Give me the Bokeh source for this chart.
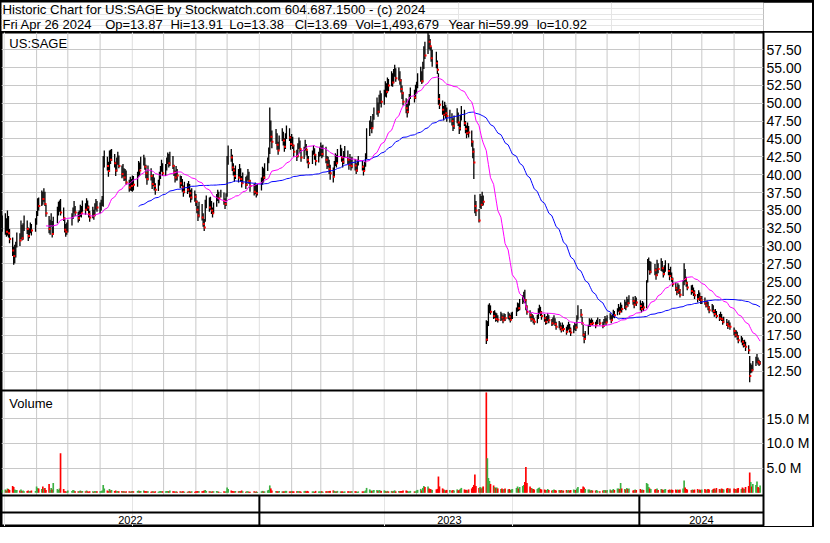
import numpy as np
import pandas as pd
from bokeh.plotting import figure
from bokeh.layouts import column
from bokeh.models import Range1d, FixedTicker, Label, ColumnDataSource
from bokeh.core.properties import value
from bokeh.embed import file_html
from bokeh.resources import INLINE

# ---------------- data ----------------
header_line1 = "Historic Chart for US:SAGE by Stockwatch.com 604.687.1500 - (c) 2024"
header_fields = ["Fri Apr 26 2024", "Op=13.87", "Hi=13.91", "Lo=13.38", "Cl=13.69",
                 "Vol=1,493,679", "Year hi=59.99", "lo=10.92"]
symbol = "US:SAGE"
volume_title = "Volume"
year_labels = ["2022", "2023", "2024"]
price_ticks = [12.5, 15.0, 17.5, 20.0, 22.5, 25.0, 27.5, 30.0, 32.5, 35.0, 37.5, 40.0,
               42.5, 45.0, 47.5, 50.0, 52.5, 55.0, 57.5]
volume_ticks_m = [5, 10, 15]
first_day, last_day = "2022-04-29", "2024-04-26"
market_holidays = ["2022-05-30", "2022-06-20", "2022-07-04", "2022-09-05", "2022-11-24",
                   "2022-12-26", "2023-01-02", "2023-01-16", "2023-02-20", "2023-04-07",
                   "2023-05-29", "2023-06-19", "2023-07-04", "2023-09-04", "2023-11-23",
                   "2023-12-25", "2024-01-01", "2024-01-15", "2024-02-19", "2024-03-29"]

close = [
    33.0,
    33.2, 32.0, 33.6, 31.8, 31.0, 29.4, 28.6, 28.9, 29.7, 31.2, 30.8, 32.9, 31.1, 32.6, 33.4, 32.4, 31.4, 31.9, 32.6, 32.2, 33.3,
    34.4, 36.1, 35.6, 37.1, 36.6, 37.5, 35.9, 34.6, 32.4, 32.9, 33.8, 31.7, 33.5, 34.8, 35.6, 36.1, 34.7, 33.9, 32.3, 32.0, 32.6,
    33.1, 34.0, 34.8, 35.5, 34.7, 33.9, 34.3, 35.2, 34.6, 35.7, 35.1, 36.0, 35.4, 34.5, 34.0, 34.8, 34.3, 35.3, 35.9, 35.4,
    35.4, 35.9, 36.4, 41.6, 42.3, 41.2, 40.5, 42.8, 42.1, 43.0, 41.6, 40.6, 41.9, 42.6, 41.2, 40.1, 40.8, 39.6, 40.3, 38.9, 38.2, 39.0, 38.4,
    39.2, 38.6, 39.9, 41.2, 40.6, 41.8, 42.2, 41.1, 40.2, 39.4, 40.6, 39.8, 38.7, 39.5, 38.4, 37.9, 38.6, 39.7, 40.5, 41.3, 40.2,
    40.9, 41.8, 42.5, 41.6, 42.7, 41.2, 40.3, 39.6, 40.6, 39.9, 38.8, 39.3, 38.2, 37.6, 38.5, 37.9, 38.6, 37.4, 36.8, 37.5, 36.9,
    36.2, 35.1, 34.3, 35.6, 34.0, 33.1, 32.6, 35.8, 36.4, 35.4, 36.1, 35.0, 34.6, 35.5, 36.6, 37.2, 36.7, 37.4, 36.3, 35.9, 36.8,
    41.5, 43.2, 42.4, 41.0, 40.6, 39.8, 40.5, 39.6, 40.7, 39.4, 38.8, 39.7, 38.6, 39.3, 40.2, 39.1, 38.4, 37.6, 38.3, 37.4, 38.1,
    38.9, 40.3, 39.6, 40.8, 41.5, 42.9, 46.8, 45.3, 44.6, 45.5, 44.2, 43.4, 44.9, 45.7, 44.8, 43.9, 45.0, 46.1, 45.2, 44.3,
    45.0, 44.1, 43.2, 42.6, 43.8, 44.5, 43.6, 42.4, 43.3, 44.2, 43.5, 42.1, 41.6, 42.7, 43.6, 42.8, 41.9, 42.6, 43.3,
    43.8, 42.9, 43.6, 42.1, 41.4, 41.9, 40.8, 40.2, 39.7, 41.3, 42.2, 41.6, 42.9, 43.5, 42.4, 41.8, 42.7, 43.3, 42.1, 41.4, 42.3, 41.2, 41.8,
    41.3, 40.6, 41.5, 42.0, 41.1, 40.5, 41.2, 42.4, 45.6, 46.8, 47.4, 46.5, 47.8, 48.6, 49.9, 48.8, 50.3, 51.0, 50.2,
    51.2, 52.4, 51.6, 53.0, 52.5, 53.8, 52.9, 54.0, 54.6, 53.5, 54.3, 53.2, 52.0, 51.4, 50.2, 49.3, 48.8, 49.9, 50.6, 51.5, 50.8, 51.9,
    52.4, 53.6, 54.2, 53.1, 55.0, 57.3, 56.7, 59.1, 58.6, 58.0, 56.3, 56.8, 55.6, 54.7, 50.6, 49.8, 49.1, 48.4, 49.4, 48.6, 48.2,
    48.2, 47.5, 46.8, 47.6, 48.4, 47.3, 46.5, 47.8, 48.9, 47.2, 46.4, 45.8, 46.7, 45.9, 44.6, 43.2, 41.7, 35.6, 35.0, 33.6,
    36.4, 35.8, 36.9, 36.2, 16.9, 18.9, 21.2, 21.4, 20.8, 20.2, 20.6, 19.8, 20.1, 19.7, 20.3, 20.0, 19.6, 20.2, 19.9, 20.4, 20.1, 19.7, 20.2,
    20.4, 21.0, 21.6, 21.3, 22.1, 22.6, 23.2, 22.4, 21.5, 20.8, 20.3, 19.8, 20.1, 19.6, 19.4, 19.9, 20.6, 21.2, 20.7, 20.2,
    19.9, 19.4, 19.7, 20.1, 19.6, 19.2, 19.5, 19.8, 19.1, 18.7, 19.0, 18.6, 18.3, 18.8, 18.4, 18.0, 18.5, 18.9, 18.3, 17.9, 18.4, 18.8,
    18.6, 19.8, 21.0, 20.4, 19.2, 17.6, 17.0, 17.7, 18.7, 19.4, 19.1, 19.5, 19.2, 18.9, 19.3, 19.6, 19.2, 18.8, 19.4, 19.7, 19.3,
    19.8, 20.2, 19.6, 20.1, 20.6, 20.3, 20.9, 21.4, 20.8, 21.6, 21.2, 21.9, 21.5, 22.3, 22.0, 22.6, 22.3, 21.8, 22.5, 22.1,
    21.6, 21.2, 21.8, 21.4, 24.6, 26.8, 27.5, 26.4, 27.2, 26.6, 25.9, 27.4, 26.8, 27.6, 26.9, 26.1, 26.7, 27.3, 26.5, 25.8, 26.4,
    25.4, 24.7, 24.1, 23.6, 24.3, 23.8, 23.2, 24.6, 26.5, 25.4, 24.8, 24.2, 23.7, 24.1, 23.5, 23.1, 22.6, 23.3, 22.8, 22.4,
    22.6, 22.1, 21.7, 22.0, 21.4, 21.0, 21.5, 20.9, 20.5, 20.8, 20.2, 19.9, 20.4, 19.8, 19.4, 19.7, 19.1, 18.8, 19.2, 18.7,
    18.1, 17.6, 17.9, 17.3, 16.8, 17.1, 16.6, 16.2, 16.5, 15.9, 15.4, 11.8, 12.9, 12.6, 13.4, 13.9, 14.3, 13.8, 13.6, 13.69,
]
high = [
    34.3,
    34.6, 33.9, 35.0, 34.2, 32.4, 31.2, 29.9, 30.2, 30.6, 31.9, 31.8, 33.6, 33.0, 33.2, 34.3, 33.6, 32.6, 32.5, 33.3, 33.1, 33.9,
    34.9, 36.7, 36.8, 37.8, 37.6, 38.1, 37.6, 35.8, 34.2, 33.7, 34.6, 33.5, 34.1, 35.5, 36.2, 36.4, 36.6, 35.4, 34.0, 33.1, 33.3,
    33.7, 34.6, 35.4, 36.3, 35.6, 34.8, 35.0, 35.8, 35.6, 36.4, 36.0, 36.7, 36.4, 35.7, 34.9, 35.5, 35.1, 36.0, 36.6, 36.3,
    36.1, 36.5, 37.0, 42.6, 43.4, 42.5, 41.8, 43.4, 43.5, 43.6, 42.9, 41.8, 42.4, 43.2, 42.7, 41.3, 41.5, 40.9, 40.8, 40.6, 39.3, 39.7, 39.4,
    39.9, 39.8, 40.4, 41.9, 41.7, 42.5, 42.8, 42.4, 41.4, 40.4, 41.3, 40.9, 39.9, 40.1, 39.6, 38.8, 39.3, 40.4, 41.2, 42.1, 41.6,
    41.5, 42.4, 43.1, 42.9, 43.2, 42.6, 41.4, 40.6, 41.2, 40.8, 39.9, 39.8, 39.4, 38.5, 39.0, 38.8, 39.1, 38.7, 37.9, 38.1, 37.8,
    37.3, 36.4, 35.6, 36.2, 35.9, 34.6, 33.8, 36.5, 37.1, 36.8, 36.9, 36.3, 35.4, 36.1, 37.3, 37.9, 37.6, 37.9, 37.5, 36.7, 37.4,
    42.6, 44.1, 43.6, 42.8, 41.6, 40.9, 41.3, 40.8, 41.5, 40.9, 39.8, 40.3, 39.7, 39.9, 40.8, 40.4, 39.3, 38.7, 38.9, 38.6, 38.7,
    39.6, 41.1, 40.9, 41.6, 42.4, 43.8, 49.4, 47.6, 46.2, 46.4, 45.8, 44.6, 45.5, 46.5, 46.0, 45.1, 45.8, 46.9, 46.5, 45.4,
    45.7, 45.3, 44.2, 43.5, 44.4, 45.2, 44.8, 43.5, 43.9, 44.9, 44.3, 43.4, 42.6, 43.4, 44.1, 43.7, 42.9, 43.2, 43.9,
    44.5, 44.1, 44.2, 43.9, 42.6, 42.5, 42.1, 41.4, 41.0, 41.9, 43.0, 42.8, 43.6, 44.2, 43.7, 42.6, 43.3, 44.0, 43.4, 42.3, 42.9, 42.4, 42.5,
    42.2, 41.6, 42.1, 42.6, 42.0, 41.3, 41.8, 43.0, 46.5, 47.6, 48.2, 47.4, 48.5, 49.4, 50.8, 50.1, 51.2, 51.8, 51.4,
    51.9, 53.1, 52.8, 53.6, 53.4, 54.5, 54.2, 54.8, 55.4, 54.9, 55.0, 54.5, 53.4, 52.5, 51.6, 50.7, 49.9, 50.6, 51.3, 52.2, 51.9, 52.6,
    53.0, 54.2, 55.1, 54.5, 55.8, 58.0, 58.6, 59.99, 59.6, 59.0, 57.9, 57.5, 57.2, 56.0, 54.2, 51.3, 50.4, 49.6, 50.2, 49.8, 49.4,
    49.1, 48.6, 47.9, 48.3, 49.3, 48.7, 47.4, 48.4, 49.6, 49.1, 47.5, 46.9, 47.3, 46.8, 46.2, 44.8, 43.7, 37.2, 36.3, 35.2,
    37.3, 37.0, 37.6, 37.1, 19.6, 19.5, 21.8, 22.0, 21.7, 20.9, 21.0, 20.7, 20.6, 20.3, 20.8, 20.6, 20.3, 20.6, 20.5, 20.8, 20.6, 20.4, 20.7,
    20.8, 21.4, 22.1, 22.0, 22.6, 23.1, 23.6, 23.9, 22.6, 21.7, 21.0, 20.6, 20.5, 20.3, 19.9, 20.4, 21.3, 21.8, 21.5, 20.9,
    20.5, 20.1, 20.2, 20.6, 20.3, 19.8, 20.0, 20.3, 19.9, 19.4, 19.5, 19.3, 18.9, 19.3, 19.0, 18.7, 19.0, 19.4, 19.1, 18.6, 18.9, 19.3,
    19.1, 20.3, 21.7, 21.2, 20.1, 19.0, 17.8, 18.1, 19.0, 19.9, 19.7, 19.9, 19.7, 19.4, 19.7, 20.0, 19.8, 19.4, 19.8, 20.2, 19.9,
    20.3, 20.6, 20.3, 20.5, 21.1, 20.9, 21.3, 21.9, 21.5, 22.1, 21.8, 22.5, 22.2, 22.9, 22.6, 23.1, 22.9, 22.5, 23.0, 22.8,
    22.4, 22.0, 22.3, 22.1, 25.2, 28.2, 28.4, 27.9, 27.8, 27.5, 26.9, 28.1, 27.6, 28.3, 27.9, 27.0, 27.3, 28.0, 27.6, 26.8, 27.1,
    26.3, 25.6, 24.9, 24.3, 24.8, 24.6, 24.0, 25.2, 27.6, 26.8, 25.7, 25.0, 24.5, 24.6, 24.2, 23.8, 23.3, 23.8, 23.5, 23.0,
    23.0, 22.8, 22.3, 22.4, 22.2, 21.6, 21.9, 21.7, 21.1, 21.2, 20.9, 20.5, 20.8, 20.5, 20.0, 20.1, 19.8, 19.4, 19.6, 19.3,
    18.6, 18.3, 18.2, 18.0, 17.5, 17.4, 17.2, 16.8, 16.9, 16.6, 16.1, 14.6, 13.6, 13.4, 13.9, 14.5, 14.9, 14.4, 14.1, 13.91,
]
low = [
    32.0,
    31.6, 31.3, 31.5, 31.2, 30.4, 28.6, 27.4, 27.6, 28.4, 29.8, 30.0, 31.0, 30.8, 30.9, 32.1, 31.7, 30.7, 31.1, 31.8, 31.5, 32.0,
    33.0, 34.2, 35.0, 35.6, 35.8, 36.2, 35.6, 34.1, 31.8, 31.6, 32.7, 31.2, 31.6, 33.2, 34.3, 34.8, 34.3, 33.5, 31.9, 31.3, 31.6,
    31.9, 32.9, 33.8, 34.6, 34.2, 33.3, 33.5, 34.1, 34.0, 34.8, 34.4, 35.1, 34.9, 34.0, 33.4, 33.9, 33.7, 34.2, 35.1, 34.8,
    34.6, 35.0, 35.6, 35.5, 41.0, 40.6, 39.7, 40.4, 41.5, 41.9, 41.0, 39.8, 40.4, 41.4, 40.9, 39.5, 39.7, 39.1, 39.2, 38.6, 37.6, 37.8, 37.7,
    37.6, 37.8, 38.3, 39.7, 39.9, 40.8, 41.3, 40.7, 39.5, 38.6, 39.2, 39.2, 38.0, 38.4, 37.8, 37.2, 37.7, 38.5, 39.4, 40.4, 39.8,
    39.8, 40.6, 41.5, 41.0, 41.2, 40.8, 39.8, 38.9, 39.2, 39.2, 38.1, 38.4, 37.6, 36.9, 37.4, 37.3, 37.6, 36.8, 36.1, 36.5, 36.2,
    35.6, 34.6, 33.5, 34.0, 33.6, 32.7, 32.1, 33.4, 35.3, 34.8, 35.1, 34.5, 34.0, 34.6, 35.5, 36.3, 36.0, 36.8, 35.8, 35.2, 35.6,
    36.9, 41.4, 41.8, 40.5, 39.9, 39.0, 39.4, 38.9, 39.5, 39.0, 38.2, 38.7, 38.0, 38.4, 39.2, 38.7, 37.6, 37.1, 37.3, 36.8, 37.1,
    37.8, 38.6, 38.9, 39.4, 40.5, 41.6, 42.9, 44.6, 43.7, 44.3, 43.5, 42.8, 43.5, 44.7, 44.1, 43.2, 43.6, 45.0, 44.7, 43.5,
    44.0, 43.6, 42.5, 41.9, 42.4, 43.6, 43.0, 41.8, 42.2, 43.4, 42.7, 41.6, 40.9, 41.5, 42.8, 42.1, 41.3, 41.7, 42.5,
    42.6, 42.3, 42.5, 41.6, 40.8, 41.0, 40.1, 39.3, 38.9, 39.8, 41.2, 41.0, 41.6, 42.6, 41.8, 41.0, 41.5, 42.4, 41.5, 40.7, 41.2, 40.6, 40.9,
    40.6, 40.1, 40.4, 41.3, 40.6, 39.9, 40.5, 41.1, 42.2, 45.4, 46.4, 45.8, 46.6, 47.7, 48.4, 48.1, 48.6, 49.9, 49.4,
    49.8, 50.9, 50.8, 51.4, 51.7, 52.4, 52.3, 52.8, 53.7, 53.0, 53.2, 52.6, 51.5, 50.6, 49.7, 48.6, 48.0, 48.6, 49.7, 50.6, 50.1, 50.6,
    51.3, 52.1, 53.0, 52.7, 52.9, 54.8, 56.2, 56.9, 57.6, 57.4, 55.8, 55.1, 54.9, 54.1, 49.8, 49.2, 48.4, 47.6, 48.2, 47.9, 47.4,
    47.3, 46.9, 46.1, 46.4, 47.2, 46.8, 45.7, 46.2, 47.6, 46.8, 45.8, 45.1, 45.6, 45.2, 43.9, 42.3, 39.4, 34.6, 34.2, 33.3,
    35.3, 35.2, 35.6, 35.7, 16.3, 16.7, 18.8, 20.6, 20.4, 19.8, 19.9, 19.4, 19.5, 19.3, 19.5, 19.6, 19.2, 19.5, 19.5, 19.8, 19.6, 19.3, 19.6,
    19.8, 20.2, 20.8, 20.9, 21.0, 21.9, 22.1, 22.0, 21.0, 20.4, 19.9, 19.4, 19.6, 19.2, 19.0, 19.2, 19.8, 20.5, 20.2, 19.7,
    19.4, 19.0, 19.1, 19.5, 19.2, 18.8, 18.9, 19.1, 18.8, 18.3, 18.5, 18.2, 17.9, 18.2, 18.0, 17.6, 17.9, 18.3, 17.9, 17.4, 17.8, 18.2,
    18.1, 18.5, 19.7, 20.0, 19.0, 17.3, 16.4, 16.9, 17.6, 18.7, 18.7, 18.9, 18.9, 18.5, 18.8, 19.1, 18.9, 18.5, 18.7, 19.2, 18.9,
    19.3, 19.7, 19.2, 19.5, 20.0, 19.9, 20.3, 20.8, 20.4, 20.9, 20.7, 21.2, 21.0, 21.7, 21.5, 21.9, 21.8, 21.3, 21.8, 21.6,
    21.0, 20.7, 21.0, 20.9, 21.3, 24.9, 26.6, 26.0, 26.2, 25.9, 25.3, 25.8, 26.2, 26.5, 26.4, 25.6, 25.9, 26.4, 25.9, 25.2, 25.7,
    25.0, 24.3, 23.7, 23.1, 23.4, 23.3, 22.8, 23.0, 24.5, 25.0, 24.3, 23.8, 23.2, 23.4, 23.0, 22.6, 22.1, 22.5, 22.3, 21.9,
    21.9, 21.8, 21.4, 21.5, 21.0, 20.6, 20.8, 20.6, 20.1, 20.3, 19.9, 19.5, 19.7, 19.5, 19.0, 19.2, 18.8, 18.4, 18.7, 18.3,
    17.5, 17.2, 17.3, 16.9, 16.4, 16.5, 16.1, 15.8, 15.9, 15.3, 14.9, 10.92, 12.2, 12.3, 12.6, 13.2, 13.6, 13.4, 13.2, 13.38,
]
volume_m = [
    0.6,
    0.7, 0.5, 0.9, 0.8, 0.6, 1.4, 1.2, 0.7, 0.6, 0.6, 0.5, 0.7, 0.4, 0.5, 0.3, 0.4, 0.5, 0.3, 0.4, 0.5, 0.4,
    1.3, 1.0, 0.9, 0.8, 1.3, 0.9, 1.0, 0.6, 1.8, 0.6, 1.0, 0.7, 2.0, 0.8, 0.6, 0.9, 8.0, 0.8, 0.3, 0.3, 0.2,
    0.5, 0.4, 0.6, 0.5, 0.3, 0.3, 0.4, 0.5, 0.3, 0.4, 0.3, 0.5, 0.3, 0.2, 0.3, 0.3, 0.2, 0.4, 0.3, 0.3,
    0.3, 0.4, 0.5, 1.6, 0.9, 0.5, 0.4, 0.8, 0.5, 0.6, 0.4, 0.5, 0.3, 0.4, 0.3, 0.4, 0.3, 0.3, 0.2, 0.3, 0.3, 0.2, 0.3,
    0.4, 0.3, 0.4, 0.5, 0.3, 0.4, 0.5, 0.4, 0.3, 0.3, 0.3, 0.2, 0.3, 0.3, 0.2, 0.3, 0.2, 0.3, 0.4, 0.3, 0.3,
    0.3, 0.4, 0.4, 0.3, 0.5, 0.3, 0.3, 0.2, 0.3, 0.2, 0.3, 0.2, 0.3, 0.3, 0.2, 0.2, 0.3, 0.3, 0.2, 0.3, 0.2,
    0.3, 0.3, 0.4, 0.3, 0.3, 0.4, 0.5, 0.6, 0.4, 0.3, 0.3, 0.2, 0.3, 0.3, 0.4, 0.3, 0.2, 0.1, 0.3, 0.2, 0.3,
    1.1, 0.8, 0.5, 0.4, 0.3, 0.3, 0.4, 0.3, 0.4, 0.3, 0.5, 0.3, 0.2, 0.3, 0.3, 0.2, 0.2, 0.3, 0.2, 0.3, 0.2,
    0.3, 0.4, 0.3, 0.3, 0.5, 0.6, 1.5, 0.9, 0.5, 0.4, 0.3, 0.3, 0.4, 0.3, 0.3, 0.3, 0.4, 0.4, 0.3, 0.3,
    0.4, 0.3, 0.3, 0.3, 0.4, 0.3, 0.3, 0.2, 0.3, 0.4, 0.3, 0.4, 0.3, 0.3, 0.3, 0.2, 0.4, 0.3, 0.3,
    0.3, 0.3, 0.2, 0.3, 0.3, 0.3, 0.4, 0.4, 0.5, 0.4, 0.3, 0.3, 0.4, 0.3, 0.3, 0.3, 0.2, 0.3, 0.3, 0.3, 0.2, 0.3, 0.3,
    0.3, 0.3, 0.2, 0.3, 0.3, 0.3, 0.3, 0.5, 1.0, 0.7, 0.5, 0.4, 0.5, 0.6, 0.6, 0.4, 0.6, 0.5, 0.4,
    0.5, 0.4, 0.3, 0.4, 0.3, 0.4, 0.3, 0.4, 0.5, 0.3, 0.4, 0.3, 0.4, 0.4, 0.5, 0.5, 0.4, 0.3, 0.3, 0.4, 0.3, 0.3,
    0.5, 0.6, 0.8, 0.5, 1.0, 1.4, 1.2, 1.3, 0.9, 0.8, 0.7, 0.6, 0.7, 0.8, 3.3, 1.3, 0.9, 0.7, 0.6, 0.5, 0.6,
    0.6, 0.5, 0.6, 0.5, 0.7, 0.5, 0.6, 0.8, 1.0, 0.7, 0.6, 0.6, 0.5, 0.7, 0.9, 1.2, 1.6, 3.7, 1.4, 1.0,
    1.2, 0.9, 1.1, 1.3, 20.3, 7.0, 3.0, 2.4, 1.8, 1.5, 1.2, 1.0, 1.1, 0.9, 0.8, 0.9, 0.7, 0.8, 0.9, 0.7, 0.8, 0.6, 0.7,
    0.8, 1.0, 1.3, 0.9, 1.2, 1.4, 1.6, 2.2, 5.2, 2.0, 1.3, 1.0, 0.9, 0.8, 0.7, 0.8, 1.0, 1.1, 0.8, 0.7,
    0.7, 0.6, 0.6, 0.8, 0.6, 0.5, 0.6, 0.7, 0.6, 0.5, 0.6, 0.5, 0.6, 0.5, 0.5, 0.6, 0.5, 0.6, 0.5, 0.6, 0.7, 0.6,
    0.6, 0.9, 1.2, 0.8, 0.7, 1.3, 1.1, 0.8, 0.7, 0.7, 0.5, 0.6, 0.5, 0.5, 0.6, 0.4, 0.3, 0.5, 0.6, 0.6, 0.5,
    0.6, 0.7, 0.5, 0.6, 0.8, 0.6, 0.9, 0.9, 0.8, 2.0, 0.9, 0.8, 0.7, 1.0, 0.8, 0.9, 0.5, 0.6, 0.7, 0.6,
    0.8, 0.6, 0.7, 0.6, 2.0, 1.8, 1.2, 0.9, 0.8, 0.7, 0.8, 0.9, 0.6, 0.8, 0.7, 0.6, 0.7, 0.8, 0.6, 0.7, 0.6,
    0.7, 0.6, 0.7, 0.6, 0.7, 0.6, 0.7, 0.9, 2.5, 1.1, 0.8, 0.7, 0.6, 0.7, 0.6, 0.7, 0.8, 0.6, 0.7, 0.6,
    0.7, 0.8, 0.6, 0.7, 0.8, 0.7, 0.6, 0.8, 0.9, 0.7, 1.0, 0.8, 0.7, 0.9, 0.8, 0.7, 0.9, 1.0, 0.8, 0.9,
    0.9, 0.8, 0.7, 0.9, 1.0, 0.8, 1.1, 0.9, 0.8, 1.2, 1.4, 4.1, 2.2, 1.3, 1.8, 1.6, 2.3, 1.2, 1.0, 1.49,
]
fast_window, slow_window = 30, 90

# ---------------- geometry (reference picture pixels -> page pixels) ----------------
INNER_W = 811                  # figure width inside the black frame
HEAD_H, MAIN_H = 29, 494       # header / chart heights inside the black frame
SX = INNER_W / 827.0           # ref x 1..828 -> 0..811
SYM = MAIN_H / 511.0           # ref y 30.5..541.5 -> 0..494
REF_X0, REF_MAIN_Y0 = 1.0, 30.5
FRAME_R = 781.0
PRICE_REF_VAL, PRICE_REF_Y, PX_PER_DOLLAR = 57.5, 48.3, 7.387
VOL_ZERO_Y, PX_PER_5M = 506.7, 25.6
SEP_PRICE_VOL, SEP_VOL_STRIP, SEP_STRIP_YEAR = 401.0, 509.5, 527.5
DAY0, DAY0_X, PX_PER_DAY = pd.Timestamp("2023-01-01"), 265.0, 389.0 / 365.0
HEADER_FIELD_X = [2.0, 106.7, 173.3, 233.3, 300.0, 362.0, 456.7, 546.7]

frame_w = int(round((FRAME_R - REF_X0) * SX))
mr = INNER_W - frame_w


def price_at(ry):
    return PRICE_REF_VAL - (ry - PRICE_REF_Y) / PX_PER_DOLLAR


def vol_at(ry):
    return (VOL_ZERO_Y - ry) / PX_PER_5M * 5e6


def date_at(rx):
    return DAY0 + pd.Timedelta(days=(rx - DAY0_X) / PX_PER_DAY)


def ref_of_canvas_y(cy):
    return REF_MAIN_Y0 + cy / SYM


top_ref, bot_ref = REF_MAIN_Y0, ref_of_canvas_y(MAIN_H)
left_ref, right_ref = REF_X0, REF_X0 + frame_w / SX
x_start, x_end = date_at(left_ref), date_at(right_ref)

# ---------------- series ----------------
dates = pd.bdate_range(first_day, last_day, freq="C", holidays=market_holidays)
n = min(len(dates), len(close), len(high), len(low), len(volume_m))
dates = dates[-n:]
close_s = pd.Series(close[-n:], dtype=float)
high_s = pd.Series(high[-n:], dtype=float)
low_s = pd.Series(low[-n:], dtype=float)
vol_s = pd.Series(volume_m[-n:], dtype=float) * 1e6
down = (close_s < close_s.shift(1)).values
vol_colors = np.where(down, "#ff0000", "#3cb043")
ma_fast = close_s.rolling(fast_window).mean()
ma_slow = close_s.rolling(slow_window).mean()

src = ColumnDataSource(dict(date=dates, high=high_s, low=low_s, close=close_s,
                            vol=vol_s, vcol=vol_colors, maf=ma_fast, mas=ma_slow))
down_src = ColumnDataSource(dict(date=dates[down] + pd.Timedelta(hours=14),
                                 close=close_s[down]))

FONT = "Liberation Sans"

# ---------------- header ----------------
head = figure(width=INNER_W, height=HEAD_H, output_backend="svg", toolbar_location=None,
              title=None, x_range=Range1d(0, 1), y_range=Range1d(0, 1),
              x_axis_location=None, y_axis_location=None,
              min_border_left=0, min_border_right=0, min_border_top=0, min_border_bottom=0,
              background_fill_color="white", border_fill_color="white",
              outline_line_color=None)
head.add_layout(Label(x=(2.0 - REF_X0) * SX, x_units="screen", y=HEAD_H - 7.4,
                      y_units="screen", text=header_line1, text_baseline="middle",
                      text_font=FONT, text_font_size="13.2px", text_color="black"))
for txt, rx in zip(header_fields, HEADER_FIELD_X):
    head.add_layout(Label(x=(rx - REF_X0) * SX, x_units="screen", y=HEAD_H - 21.6,
                          y_units="screen", text=txt, text_baseline="middle",
                          text_font=FONT, text_font_size="13px", text_color="black"))

# ---------------- main chart ----------------
p = figure(width=INNER_W, height=MAIN_H, output_backend="svg", toolbar_location=None,
           title=None, x_range=Range1d(x_start, x_end),
           y_range=Range1d(price_at(bot_ref), price_at(top_ref)),
           x_axis_type="datetime", x_axis_location=None, y_axis_location="right",
           min_border_left=0, min_border_right=mr, min_border_top=0, min_border_bottom=0,
           background_fill_color="white", border_fill_color="white",
           outline_line_color="black", outline_line_width=2)
p.extra_y_ranges = {"vol": Range1d(vol_at(bot_ref), vol_at(top_ref))}

vol_tick_pos = [round(price_at(VOL_ZERO_Y - v * PX_PER_5M / 5.0), 4) for v in volume_ticks_m]
all_ticks = price_ticks + vol_tick_pos
overrides = {t: f"{t:.2f}" for t in price_ticks}
for v, t in zip(volume_ticks_m, vol_tick_pos):
    overrides[t] = f"{v:.1f} M"
ticker = FixedTicker(ticks=all_ticks)
ax = p.yaxis[0]
ax.ticker = ticker
ax.major_label_overrides = overrides
ax.axis_line_color = None
ax.major_tick_line_color = None
ax.minor_tick_line_color = None
ax.major_tick_out = 0
ax.major_tick_in = 0
ax.major_label_standoff = 3
ax.major_label_text_font = FONT
ax.major_label_text_font_size = "14px"
ax.major_label_text_color = "#000000"
p.ygrid.ticker = ticker
p.ygrid.grid_line_color = "#c8c8c8"
p.ygrid.grid_line_width = 1

# monthly vertical grid (price + volume panels only)
months = pd.date_range(x_start.normalize(), x_end, freq="MS")
msrc = ColumnDataSource(dict(x=months, y0=[price_at(SEP_VOL_STRIP)] * len(months),
                             y1=[price_at(top_ref)] * len(months)))
p.segment(x0="x", y0="y0", x1="x", y1="y1", source=msrc, line_color="#c8c8c8",
          line_width=1, level="underlay")

# price bars, close marks, moving averages
p.segment(x0="date", y0="low", x1="date", y1="high", source=src, line_color="black",
          line_width=1.3)
p.scatter(x="date", y="close", source=down_src, marker="square", size=2,
          fill_color="#ff0000", line_color=None)
p.line(x="date", y="mas", source=src, line_color="#0000ff", line_width=1)
p.line(x="date", y="maf", source=src, line_color="#ff00ff", line_width=1)

# volume
p.vbar(x="date", top="vol", bottom=0, width=1.6 * 86400000, source=src,
       fill_color="vcol", line_color=None, y_range_name="vol")

# panel separators (drawn as glyphs, below the year labels)
p.hspan(y=[price_at(ry) for ry in (SEP_PRICE_VOL, SEP_VOL_STRIP, SEP_STRIP_YEAR)],
        line_color="black", line_width=2)

# year dividers and labels
year_starts = [pd.Timestamp(f"{y}-01-01") for y in year_labels]
divs = [d for d in year_starts if x_start < d < x_end]
dsrc = ColumnDataSource(dict(x=divs, y0=[price_at(SEP_VOL_STRIP)] * len(divs),
                             y1=[price_at(bot_ref)] * len(divs)))
p.segment(x0="x", y0="y0", x1="x", y1="y1", source=dsrc, line_color="black", line_width=2)
centers = []
for i, d in enumerate(year_starts):
    a = max(d, x_start)
    b = min(year_starts[i + 1], x_end) if i + 1 < len(year_starts) else x_end
    centers.append(a + (b - a) / 2)
row_top = (SEP_STRIP_YEAR - REF_MAIN_Y0) * SYM + 1.0   # just under the separator
row_bot = MAIN_H - 1.0                                  # just above the frame edge
p.text(x=centers, y=[price_at(ref_of_canvas_y((row_top + row_bot) / 2))] * len(centers),
       text=year_labels, text_align="center", text_baseline="middle",
       text_font=value(FONT), text_font_size=value("11px"), text_color="black")

# panel labels
p.add_layout(Label(x=(9 - REF_X0) * SX, x_units="screen", y=price_at(41.5), text=symbol,
                   text_baseline="middle", text_font=FONT,
                   text_font_size="13px", text_color="black"))
p.add_layout(Label(x=(9 - REF_X0) * SX, x_units="screen", y=price_at(414), text=volume_title,
                   text_baseline="middle", text_font=FONT,
                   text_font_size="13px", text_color="black"))

page = column(head, p, spacing=1,
              styles={"background-color": "black", "padding": "2px 2px 1px 1px"})

open("out.html", "w").write(file_html(page, INLINE, "Historic Chart"))
